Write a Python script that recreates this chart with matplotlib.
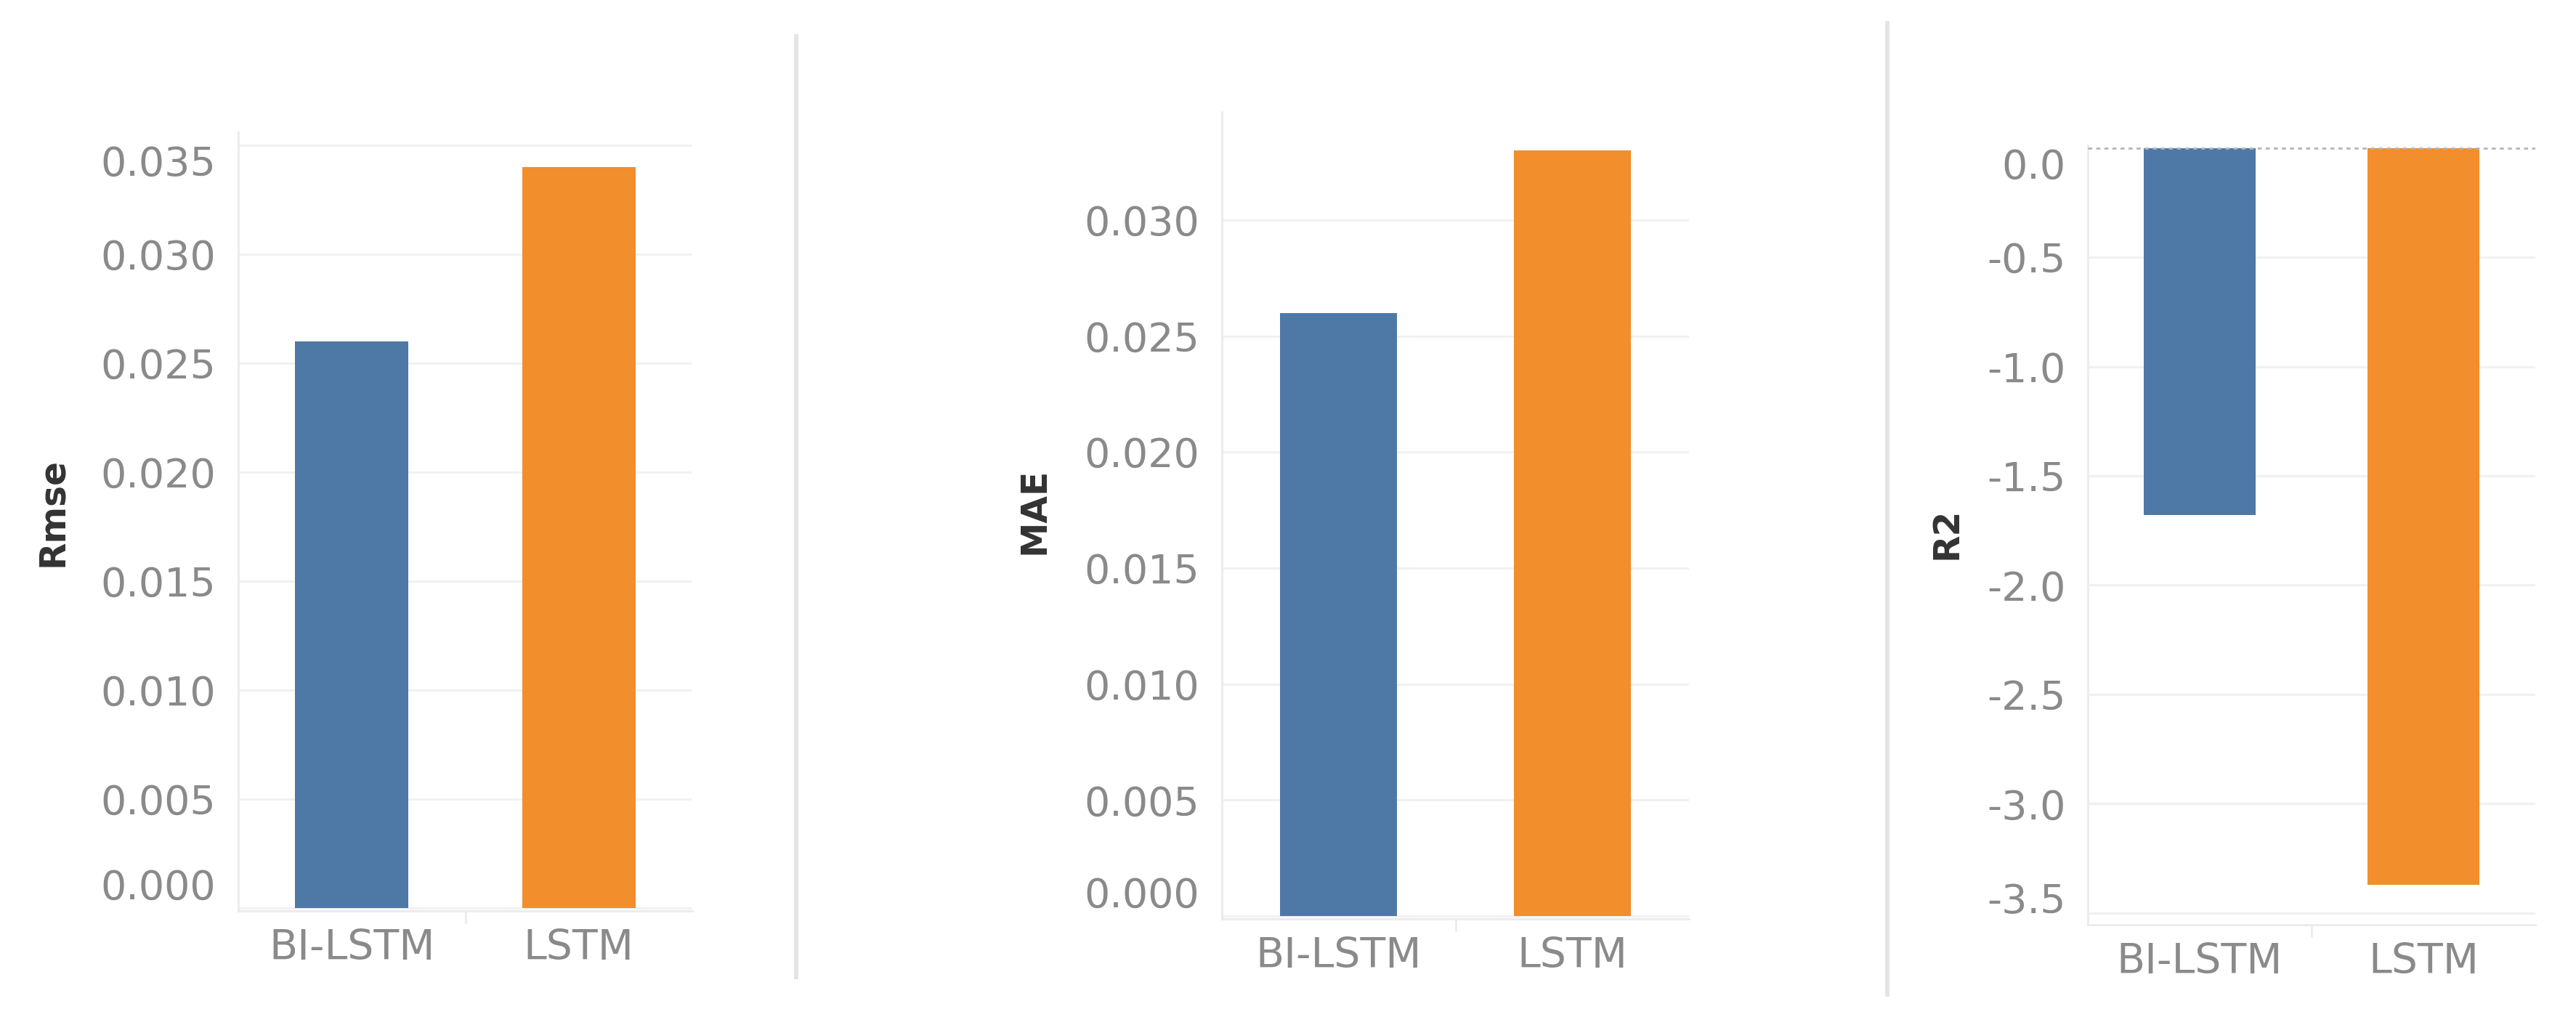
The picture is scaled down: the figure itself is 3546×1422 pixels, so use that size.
import numpy as np
import matplotlib.pyplot as plt
from matplotlib.lines import Line2D

# ---- data ----
models = ["BI-LSTM", "LSTM"]
rmse = [0.026, 0.034]
mae = [0.026, 0.033]
r2 = [-1.68, -3.37]

rmse_ticks = [0.000, 0.005, 0.010, 0.015, 0.020, 0.025, 0.030, 0.035]
mae_ticks = [0.000, 0.005, 0.010, 0.015, 0.020, 0.025, 0.030]
r2_ticks = [0.0, -0.5, -1.0, -1.5, -2.0, -2.5, -3.0, -3.5]

bar_colors = ["#4e79a7", "#f28e2b"]
TICK_GRAY = "#8a8a8a"
LINE_GRAY = "#ebebeb"

W, H = 3546, 1422
fig = plt.figure(figsize=(W / 100, H / 100), dpi=100)


def px_axes(left, right, top, bottom):
    # pixel box (from top-left) -> figure fraction
    return fig.add_axes([left / W, 1 - bottom / H, (right - left) / W, (bottom - top) / H])


def draw_panel(ax, values, ticks, fmt, ylim, top_va, bottom_va):
    x = np.arange(len(models))
    ax.bar(x, values, width=0.5, color=bar_colors, zorder=3)
    ax.set_xlim(-0.5, len(models) - 0.5)
    ax.set_ylim(*ylim)
    ax.set_yticks(ticks)
    ax.set_yticklabels([fmt.format(t) for t in ticks])
    ax.set_xticks(x)
    ax.set_xticklabels(models)
    ax.set_xticks([0.5], minor=True)
    ax.tick_params(axis="y", length=0, pad=22, labelsize=40, labelcolor=TICK_GRAY)
    ax.tick_params(axis="x", length=0, pad=17, labelsize=41, labelcolor=TICK_GRAY)
    ax.tick_params(axis="x", which="minor", length=12, width=2, color=LINE_GRAY)
    ax.grid(axis="y", color="#f1f1f1", lw=2.2)
    ax.set_axisbelow(True)
    for s in ["top", "right"]:
        ax.spines[s].set_visible(False)
    for s in ["left", "bottom"]:
        ax.spines[s].set_color(LINE_GRAY)
        ax.spines[s].set_linewidth(2)
    # Tableau keeps the end labels inside the axis
    lo, hi = min(ticks), max(ticks)
    for lab, t in zip(ax.get_yticklabels(), ticks):
        if t == hi and top_va:
            lab.set_va(top_va)
        if t == lo and bottom_va:
            lab.set_va(bottom_va)


ax1 = px_axes(328, 953, 182, 1254)
draw_panel(ax1, rmse, rmse_ticks, "{:.3f}", (-0.00013, 0.0356), "top", "bottom")

ax2 = px_axes(1682, 2325, 154, 1265)
draw_panel(ax2, mae, mae_ticks, "{:.3f}", (-0.000125, 0.03466), None, "bottom")

ax3 = px_axes(2874, 3490, 200, 1273)
draw_panel(ax3, r2, r2_ticks, "{:.1f}", (-3.554, 0.012), "top", "baseline")
ax3.grid(False)
for t in r2_ticks[1:]:
    ax3.axhline(t, color="#f1f1f1", lw=2.2, zorder=0)
ax3.axhline(0, color="#b5b5b5", lw=2, ls=(0, (2, 2)), zorder=4)

# axis titles
label_kw = dict(rotation=90, ha="center", va="center", fontsize=35,
                fontweight="bold", color="#333333")
fig.text(72 / W, 1 - 705 / H, "Rmse", **label_kw)
fig.text(1424 / W, 1 - 703 / H, "MAE", **label_kw)
fig.text(2679 / W, 1 - 734 / H, "R2", **label_kw)

# light dividers between the worksheets
fig.add_artist(Line2D([1096 / W, 1096 / W], [1 - 50 / H, 1 - 1345 / H],
                      color="#e4e4e4", lw=4.3))
fig.add_artist(Line2D([2598 / W, 2598 / W], [1 - 32 / H, 1 - 1369 / H],
                      color="#e4e4e4", lw=4.3))

fig.savefig("out.png", dpi=100, facecolor="white")
